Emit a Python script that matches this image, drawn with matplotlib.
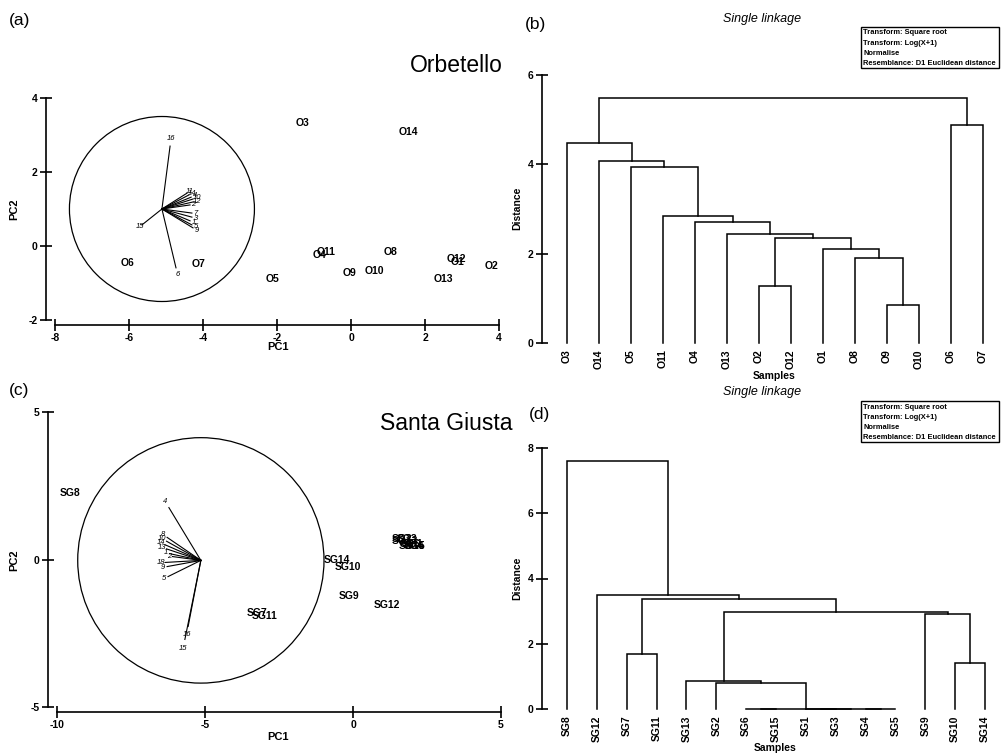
import matplotlib
matplotlib.use("Agg")
import matplotlib.pyplot as plt
from matplotlib.patches import Circle, Rectangle

plt.rcParams['font.family'] = ['Liberation Sans', 'DejaVu Sans']
plt.rcParams['axes.unicode_minus'] = False

W, H = 1001, 754

# ---- (a) Orbetello PCA ----
orb_sites = ['O1', 'O2', 'O3', 'O4', 'O5', 'O6', 'O7', 'O8', 'O9', 'O10', 'O11', 'O12', 'O13', 'O14']
orb_pc1 = [2.89, 3.81, -1.32, -0.86, -2.11, -6.03, -4.11, 1.08, -0.05, 0.62, -0.68, 2.84, 2.49, 1.54]
orb_pc2 = [-0.43, -0.54, 3.32, -0.24, -0.89, -0.46, -0.49, -0.16, -0.73, -0.68, -0.16, -0.35, -0.89, 3.08]
orb_vec_labels = ['16', '15', '6', '11', '14', '4', '10', '12', '2', '7', '3', '1', '5', '9']
orb_vec_x = [-4.89, -5.65, -4.73, -4.43, -4.38, -4.32, -4.27, -4.27, -4.35, -4.30, -4.30, -4.35, -4.30, -4.27]
orb_vec_y = [2.70, 0.57, -0.59, 1.43, 1.38, 1.32, 1.27, 1.19, 1.11, 0.89, 0.78, 0.68, 0.57, 0.49]
orb_origin = (-5.11, 1.0)
orb_radius = 2.5

# ---- (c) Santa Giusta PCA ----
sg_sites = ['SG1', 'SG2', 'SG3', 'SG4', 'SG5', 'SG6', 'SG7', 'SG8', 'SG9', 'SG10',
            'SG11', 'SG12', 'SG13', 'SG14', 'SG15']
sg_pc1 = [2.03, 1.66, 1.82, 2.06, 2.09, 1.93, -3.24, -9.56, -0.14, -0.17, -3.00, 1.15, 1.76, -0.54, 1.99]
sg_pc2 = [0.54, 0.68, 0.71, 0.47, 0.47, 0.51, -1.80, 2.24, -1.25, -0.24, -1.90, -1.53, 0.64, -0.03, 0.47]
sg_vec_labels = ['4', '8', '10', '14', '13', '1', '2', '18', '9', '5', '16', '15']
sg_vec_x = [-6.22, -6.28, -6.30, -6.35, -6.30, -6.20, -6.10, -6.35, -6.28, -6.25, -5.57, -5.68]
sg_vec_y = [1.76, 0.75, 0.62, 0.50, 0.36, 0.20, 0.10, -0.10, -0.24, -0.58, -2.27, -2.71]
sg_origin = (-5.14, -0.03)
sg_radius = 4.16

# ---- (b) Orbetello dendrogram ----
orb_leaves = ['O3', 'O14', 'O5', 'O11', 'O4', 'O13', 'O2', 'O12', 'O1', 'O8', 'O9', 'O10', 'O6', 'O7']
orb_merges = [('O9', 'O10', 0.85), ('O2', 'O12', 1.28), ('O8', 0, 1.91), ('O1', 2, 2.11),
              (1, 3, 2.34), ('O13', 4, 2.45), ('O4', 5, 2.72), ('O11', 6, 2.85),
              ('O5', 7, 3.93), ('O14', 8, 4.07), ('O3', 9, 4.47), ('O6', 'O7', 4.88),
              (10, 11, 5.48)]

# ---- (d) Santa Giusta dendrogram ----
sg_leaves = ['SG8', 'SG12', 'SG7', 'SG11', 'SG13', 'SG2', 'SG6', 'SG15', 'SG1', 'SG3',
             'SG4', 'SG5', 'SG9', 'SG10', 'SG14']
sg_merges = [('SG6', 'SG15', 0.0), ('SG1', 'SG3', 0.0), ('SG4', 'SG5', 0.0), (1, 2, 0.0),
             (0, 3, 0.0), ('SG2', 4, 0.81), ('SG13', 5, 0.86), ('SG10', 'SG14', 1.41),
             ('SG9', 7, 2.91), (6, 8, 2.98), ('SG7', 'SG11', 1.69), (10, 9, 3.37),
             ('SG12', 11, 3.50), ('SG8', 12, 7.60)]

legend_lines = ['Transform: Square root', 'Transform: Log(X+1)', 'Normalise',
                'Resemblance: D1 Euclidean distance']


def px_box(l, t, r, b):
    return [l / W, 1 - b / H, (r - l) / W, (b - t) / H]


def ftext(x, y, s, **kw):
    fig.text(x / W, 1 - y / H, s, **kw)


def style_axes(ax):
    for side in ['top', 'right']:
        ax.spines[side].set_visible(False)
    for side in ['left', 'bottom']:
        ax.spines[side].set_linewidth(1.2)
    ax.tick_params(direction='inout', length=8, width=1.2, labelsize=7.5, pad=2)
    for lab in ax.get_xticklabels() + ax.get_yticklabels():
        lab.set_fontweight('bold')


def pca_panel(ax, sites, x, y, vlab, vx, vy, origin, radius):
    ax.add_patch(Circle(origin, radius, fill=False, lw=0.9, ec='black'))
    for lab, ex, ey in zip(vlab, vx, vy):
        ax.plot([origin[0], ex], [origin[1], ey], color='black', lw=0.8)
        tx = origin[0] + (ex - origin[0]) * 1.12
        ty = origin[1] + (ey - origin[1]) * 1.12
        ax.text(tx, ty, lab, fontsize=5.5, style='italic', ha='center', va='center')
    for s, a, b in zip(sites, x, y):
        ax.text(a, b, s, fontsize=7.5, fontweight='bold', ha='center', va='center')


def dendrogram(ax, leaves, merges):
    pos = {name: i for i, name in enumerate(leaves)}
    nodes = []

    def get(c):
        if isinstance(c, str):
            return pos[c], 0.0
        return nodes[c]

    for a, b, h in merges:
        xa, ha = get(a)
        xb, hb = get(b)
        ax.plot([xa, xa, xb, xb], [ha, h, h, hb], color='black', lw=1.1,
                solid_joinstyle='miter', clip_on=False)
        nodes.append(((xa + xb) / 2, h))
    ax.set_xticks(range(len(leaves)))
    ax.set_xticklabels(leaves, rotation=90, fontsize=7.5)
    ax.spines['bottom'].set_visible(False)


fig = plt.figure(figsize=(W / 100, H / 100), dpi=100)

# (a)
ax_a = fig.add_axes(px_box(46, 60, 510, 325))
ax_a.set_xlim(-8 - 9 / 37, 4 + 11 / 37)
ax_a.set_ylim(-2 - 5 / 37, 4 + 38 / 37)
pca_panel(ax_a, orb_sites, orb_pc1, orb_pc2, orb_vec_labels, orb_vec_x, orb_vec_y,
          orb_origin, orb_radius)
ax_a.set_xticks([-8, -6, -4, -2, 0, 2, 4])
ax_a.set_yticks([-2, 0, 2, 4])
ax_a.spines['left'].set_bounds(-2, 4)
ax_a.spines['bottom'].set_bounds(-8, 4)
style_axes(ax_a)

# (c)
ax_c = fig.add_axes(px_box(48, 405, 510, 712))
ax_c.set_xlim(-10 - 9 / 29.6, 5 + 9 / 29.6)
ax_c.set_ylim(-5 - 5 / 29.5, 5 + 7 / 29.5)
pca_panel(ax_c, sg_sites, sg_pc1, sg_pc2, sg_vec_labels, sg_vec_x, sg_vec_y,
          sg_origin, sg_radius)
ax_c.set_xticks([-10, -5, 0, 5])
ax_c.set_yticks([-5, 0, 5])
ax_c.spines['left'].set_bounds(-5, 5)
ax_c.spines['bottom'].set_bounds(-10, 5)
style_axes(ax_c)

# (b)
ax_b = fig.add_axes(px_box(542, 60, 1000, 345))
dendrogram(ax_b, orb_leaves, orb_merges)
ax_b.set_xlim(-25 / 32, (1000 - 567) / 32)
ax_b.set_ylim(-2 / 44.67, 6 + 15 / 44.67)
ax_b.set_yticks([0, 2, 4, 6])
ax_b.spines['left'].set_bounds(0, 6)
style_axes(ax_b)
ax_b.tick_params(axis='x', length=0, pad=3)

# (d)
ax_d = fig.add_axes(px_box(542, 430, 1000, 711))
dendrogram(ax_d, sg_leaves, sg_merges)
ax_d.set_xlim(-25 / 29.86, (1000 - 567) / 29.86)
ax_d.set_ylim(-2 / 32.625, 8 + 18 / 32.625)
ax_d.set_yticks([0, 2, 4, 6, 8])
ax_d.spines['left'].set_bounds(0, 8)
style_axes(ax_d)
ax_d.tick_params(axis='x', length=0, pad=3)

# panel texts
ftext(20, 20, '(a)', fontsize=12.5, ha='center', va='center')
ftext(535, 25, '(b)', fontsize=12.5, ha='center', va='center')
ftext(19, 390, '(c)', fontsize=12.5, ha='center', va='center')
ftext(539, 415, '(d)', fontsize=12.5, ha='center', va='center')
ftext(456, 66, 'Orbetello', fontsize=16.5, ha='center', va='center')
ftext(446, 424, 'Santa Giusta', fontsize=16.5, ha='center', va='center')

for y0 in (347, 737):
    ftext(278, y0, 'PC1', fontsize=8, fontweight='bold', ha='center', va='center')
for y0 in (209, 560):
    ftext(14, y0, 'PC2', fontsize=8, fontweight='bold', ha='center', va='center',
          rotation=90)
for y0 in (208, 578):
    ftext(517, y0, 'Distance', fontsize=7.5, fontweight='bold', ha='center', va='center',
          rotation=90)
ftext(774, 376, 'Samples', fontsize=7.5, fontweight='bold', ha='center', va='center')
ftext(775, 748, 'Samples', fontsize=7.5, fontweight='bold', ha='center', va='center')
ftext(762, 19, 'Single linkage', fontsize=9, style='italic', ha='center', va='center')
ftext(762, 392, 'Single linkage', fontsize=9, style='italic', ha='center', va='center')

# legend boxes
for top in (27, 401):
    fig.add_artist(Rectangle((861 / W, 1 - (top + 41) / H), 138 / W, 41 / H,
                             transform=fig.transFigure, fill=False, lw=1.0, ec='black'))
    for i, line in enumerate(legend_lines):
        ftext(863, top + 6 + i * 10.3, line, fontsize=5.4, fontweight='bold',
              ha='left', va='center')

fig.savefig('out.png', dpi=100)
